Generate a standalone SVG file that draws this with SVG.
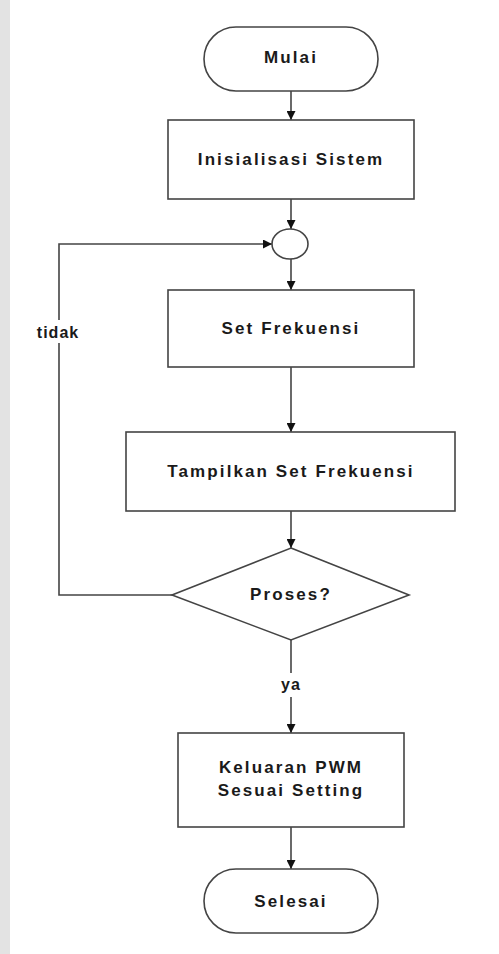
<svg xmlns="http://www.w3.org/2000/svg" width="499" height="954" viewBox="0 0 499 954">
<style>
.s{fill:#fff;stroke:#444;stroke-width:1.6}
.c{fill:none;stroke:#444;stroke-width:1.6}
.t{font-family:"Liberation Sans",Arial,sans-serif;font-weight:bold;font-size:17px;fill:#1a1a1a;text-anchor:middle;letter-spacing:2.1px}
.l{font-family:"Liberation Sans",Arial,sans-serif;font-weight:bold;font-size:16px;fill:#1a1a1a;text-anchor:middle;letter-spacing:1px}
</style>
<defs>
<marker id="a" viewBox="0 0 10 10" refX="10" refY="5" markerWidth="9" markerHeight="9" markerUnits="userSpaceOnUse" orient="auto">
<path d="M0,0 L10,5 L0,10 z" fill="#111"/>
</marker>
</defs>
<rect x="0" y="0" width="499" height="954" fill="#fff"/>
<rect x="0" y="0" width="10" height="954" fill="#e3e3e3"/>
<g id="connectors">
<line class="c" x1="291" y1="91" x2="291" y2="120" marker-end="url(#a)"/>
<line class="c" x1="291" y1="199" x2="291" y2="229" marker-end="url(#a)"/>
<line class="c" x1="291" y1="259" x2="291" y2="290" marker-end="url(#a)"/>
<line class="c" x1="291" y1="367" x2="291" y2="432" marker-end="url(#a)"/>
<line class="c" x1="291" y1="511" x2="291" y2="548" marker-end="url(#a)"/>
<line class="c" x1="291" y1="640" x2="291" y2="733" marker-end="url(#a)"/>
<line class="c" x1="291" y1="827" x2="291" y2="869" marker-end="url(#a)"/>
<polyline class="c" points="172,595 59,595 59,244 272,244" marker-end="url(#a)"/>
<rect x="276" y="673" width="30" height="24" fill="#fff"/>
<text class="l" x="291" y="690">ya</text>
<rect x="32" y="320" width="54" height="23" fill="#fff"/>
<text class="l" x="58" y="338">tidak</text>
</g>
<g id="mulai">
<rect class="s" x="204" y="27" width="174" height="64" rx="32" ry="32"/>
<text class="t" x="291" y="63">Mulai</text>
</g>
<g id="inisialisasi">
<rect class="s" x="168" y="120" width="246" height="79"/>
<text class="t" x="291" y="165">Inisialisasi Sistem</text>
</g>
<g id="sambung">
<ellipse class="s" cx="290" cy="244" rx="18" ry="15"/>
</g>
<g id="setfrekuensi">
<rect class="s" x="168" y="290" width="246" height="77"/>
<text class="t" x="291" y="334">Set Frekuensi</text>
</g>
<g id="tampilkan">
<rect class="s" x="126" y="432" width="329" height="79"/>
<text class="t" x="291" y="477">Tampilkan Set Frekuensi</text>
</g>
<g id="proses">
<polygon class="s" points="291,548 409,595 291,640 172,595"/>
<text class="t" x="291" y="600">Proses?</text>
</g>
<g id="keluaran">
<rect class="s" x="178" y="733" width="226" height="94"/>
<text class="t" x="291" y="773">Keluaran PWM</text>
<text class="t" x="291" y="796">Sesuai Setting</text>
</g>
<g id="selesai">
<rect class="s" x="204" y="869" width="174" height="64" rx="32" ry="32"/>
<text class="t" x="291" y="907">Selesai</text>
</g>
</svg>
